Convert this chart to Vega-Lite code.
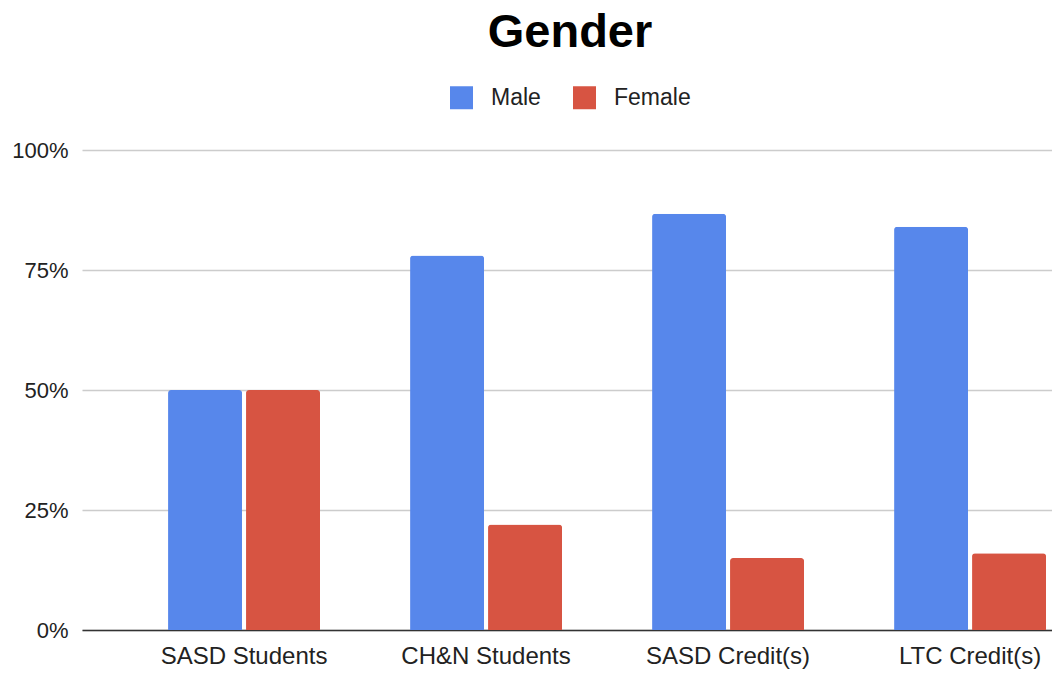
{
  "$schema": "https://vega.github.io/schema/vega-lite/v6.json",
  "width": 976,
  "height": 480,
  "autosize": {"type": "none"},
  "padding": {"left": 82, "top": 150, "right": 0, "bottom": 43},
  "background": "white",
  "title": {
    "text": "Gender",
    "font": "Liberation Sans",
    "fontSize": 47,
    "fontWeight": "bold",
    "color": "#000000",
    "anchor": "middle",
    "frame": "group",
    "baseline": "alphabetic",
    "offset": 39,
    "dy": 47
  },
  "data": {
    "values": [
      {"category": "SASD Students", "gender": "Male", "value": 0.50},
      {"category": "SASD Students", "gender": "Female", "value": 0.50},
      {"category": "CH&N Students", "gender": "Male", "value": 0.78},
      {"category": "CH&N Students", "gender": "Female", "value": 0.22},
      {"category": "SASD Credit(s)", "gender": "Male", "value": 0.867},
      {"category": "SASD Credit(s)", "gender": "Female", "value": 0.15},
      {"category": "LTC Credit(s)", "gender": "Male", "value": 0.84},
      {"category": "LTC Credit(s)", "gender": "Female", "value": 0.16}
    ]
  },
  "mark": {"type": "bar", "cornerRadiusTopLeft": 3, "cornerRadiusTopRight": 3},
  "encoding": {
    "x": {
      "field": "category",
      "type": "nominal",
      "sort": null,
      "scale": {"paddingInner": 0.372, "paddingOuter": 0.2025, "align": 0.878},
      "axis": {
        "title": null,
        "labelAngle": 0,
        "labelFont": "Liberation Sans",
        "labelFontSize": 24,
        "labelColor": "#222222",
        "labelPadding": 14,
        "ticks": false,
        "domain": true,
        "domainColor": "#333333",
        "domainWidth": 1.5,
        "grid": false
      }
    },
    "xOffset": {
      "field": "gender",
      "type": "nominal",
      "sort": ["Male", "Female"],
      "scale": {"paddingInner": 0.051, "paddingOuter": 0}
    },
    "y": {
      "field": "value",
      "type": "quantitative",
      "scale": {"domain": [0, 1], "nice": false},
      "axis": {
        "title": null,
        "values": [0, 0.25, 0.5, 0.75, 1],
        "format": ".0%",
        "labelFont": "Liberation Sans",
        "labelFontSize": 22,
        "labelColor": "#222222",
        "labelPadding": 14,
        "ticks": false,
        "domain": false,
        "grid": true,
        "gridColor": "#cccccc",
        "gridWidth": 1.5
      }
    },
    "color": {
      "field": "gender",
      "type": "nominal",
      "scale": {"domain": ["Male", "Female"], "range": ["#5787EB", "#D75442"]},
      "legend": {
        "title": null,
        "orient": "none",
        "direction": "horizontal",
        "legendX": 368,
        "legendY": -64,
        "padding": 0,
        "symbolType": "square",
        "symbolSize": 529,
        "symbolStrokeWidth": 0,
        "labelFont": "Liberation Sans",
        "labelFontSize": 23,
        "labelColor": "#222222",
        "labelOffset": 18,
        "columnPadding": 32
      }
    }
  },
  "config": {"view": {"stroke": null}}
}
